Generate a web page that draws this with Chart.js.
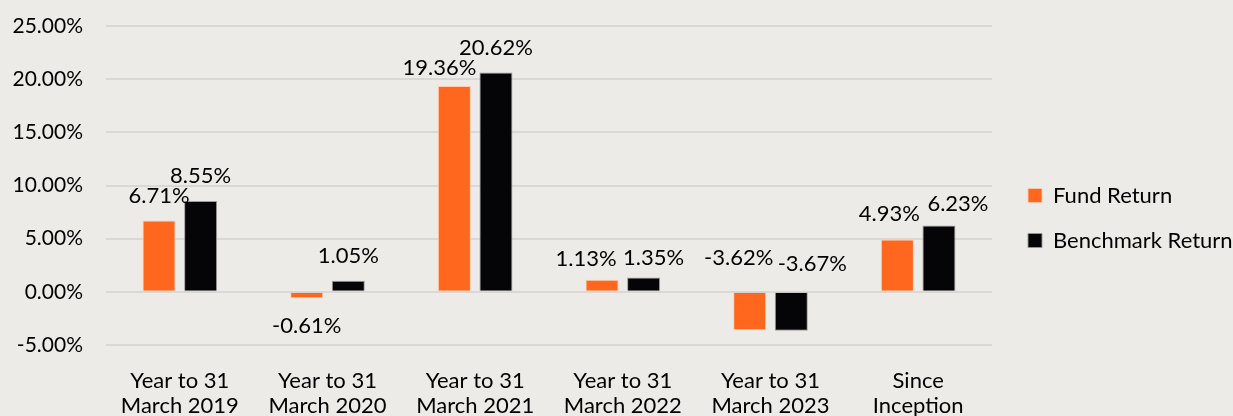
<!DOCTYPE html>
<html>
<head>
<meta charset="utf-8">
<script src="https://cdn.jsdelivr.net/npm/chart.js@4/dist/chart.umd.min.js"></script>
<style>
    html, body { margin: 0; padding: 0; background: #edebe7; }
    #wrap { width: 1233px; height: 416px; position: relative; }
</style>
</head>
<body>
<div id="wrap"><canvas id="chart"></canvas></div>
<script>
// 데이터
const categories = [
    ['Year to 31', 'March 2019'],
    ['Year to 31', 'March 2020'],
    ['Year to 31', 'March 2021'],
    ['Year to 31', 'March 2022'],
    ['Year to 31', 'March 2023'],
    ['Since', 'Inception']
];
const fundReturn = [6.71, -0.61, 19.36, 1.13, -3.62, 4.93];
const benchmarkReturn = [8.55, 1.05, 20.62, 1.35, -3.67, 6.23];
const yTicks = [-5, 0, 5, 10, 15, 20, 25];

// 라벨 위치 ('end' = 막대 끝, 'base' = 0선 위)
const fundLabelPlace = ['end', 'end', 'end', 'end', 'base', 'end'];
const benchLabelPlace = ['end', 'end', 'end', 'end', 'base', 'end'];
// 겹침 피하기용 라벨 보정 (px)
const fundLabelNudge = [[0, 0], [0, 0], [-15, 7], [-16, 4], [-11, -5], [-8, -1]];
const benchLabelNudge = [[0, 0], [0, 0], [0, 0], [10, 5], [21, 1], [19, 3]];

const FONT = 'Lato, "Open Sans", sans-serif';
const ORANGE = '#ff671f';
const BLACK = '#050508';

// 데이터 라벨 플러그인
const valueLabels = {
    id: 'valueLabels',
    afterDatasetsDraw(chart) {
        const ctx = chart.ctx;
        const places = [fundLabelPlace, benchLabelPlace];
        const nudges = [fundLabelNudge, benchLabelNudge];
        ctx.save();
        ctx.font = '22px ' + FONT;
        ctx.fillStyle = '#000';
        ctx.textAlign = 'center';
        ctx.textBaseline = 'middle';
        chart.data.datasets.forEach((ds, di) => {
            const meta = chart.getDatasetMeta(di);
            meta.data.forEach((bar, i) => {
                const v = ds.data[i];
                let y;
                if (places[di][i] === 'base') {
                    y = bar.base - 30;
                } else if (v >= 0) {
                    y = bar.y - 25;
                } else {
                    y = bar.y + 28;
                }
                const [dx, dy] = nudges[di][i];
                ctx.fillText(v.toFixed(2) + '%', bar.x + dx, y + dy);
            });
        });
        ctx.restore();
    }
};

// 범례 폭/위치 조정
const legendTweak = {
    id: 'legendTweak',
    beforeInit(chart) {
        const legend = chart.legend;
        const origFit = legend.fit;
        legend.fit = function () {
            origFit.call(legend);
            legend.width = 241;
        };
        const origDraw = legend.draw;
        legend.draw = function () {
            chart.ctx.save();
            chart.ctx.translate(13, -3);
            origDraw.call(legend);
            chart.ctx.restore();
        };
    }
};

function init() {
    const ctx = document.getElementById('chart').getContext('2d');
    new Chart(ctx, {
        type: 'bar',
        data: {
            labels: categories,
            datasets: [{
                label: 'Fund Return',
                data: fundReturn,
                backgroundColor: ORANGE,
                borderColor: 'rgba(255, 200, 170, 0.9)',
                borderWidth: 1,
                barPercentage: 0.795,
                categoryPercentage: 0.563
            }, {
                label: 'Benchmark Return',
                data: benchmarkReturn,
                backgroundColor: BLACK,
                borderColor: 'rgba(150, 150, 150, 0.9)',
                borderWidth: 1,
                barPercentage: 0.795,
                categoryPercentage: 0.563
            }]
        },
        options: {
            responsive: true,
            maintainAspectRatio: false,
            animation: false,
            layout: { padding: { top: 26, left: 13, right: 0, bottom: 0 } },
            plugins: {
                legend: {
                    position: 'right',
                    labels: {
                        boxWidth: 14,
                        boxHeight: 14,
                        padding: 23,
                        color: '#000',
                        font: { family: FONT, size: 22 }
                    }
                },
                tooltip: { enabled: false }
            },
            scales: {
                x: {
                    grid: { display: false, drawTicks: false },
                    border: { display: false },
                    afterFit(scale) { scale.height = 71; },
                    ticks: {
                        color: '#000',
                        padding: 23,
                        maxRotation: 0,
                        font: { family: FONT, size: 22, lineHeight: 1.15 }
                    }
                },
                y: {
                    min: -5,
                    max: 25,
                    afterBuildTicks(axis) {
                        axis.ticks = yTicks.map(v => ({ value: v }));
                    },
                    afterFit(scale) {
                        scale.width = 93;
                        scale.paddingTop = 0;
                    },
                    grid: { color: '#d9d8d5', lineWidth: 2, drawTicks: false },
                    border: { display: false },
                    ticks: {
                        color: '#000',
                        padding: 23,
                        font: { family: FONT, size: 21 },
                        callback: v => v.toFixed(2) + '%'
                    }
                }
            }
        },
        plugins: [valueLabels, legendTweak]
    });
}

document.addEventListener('DOMContentLoaded', init);
</script>
</body>
</html>
